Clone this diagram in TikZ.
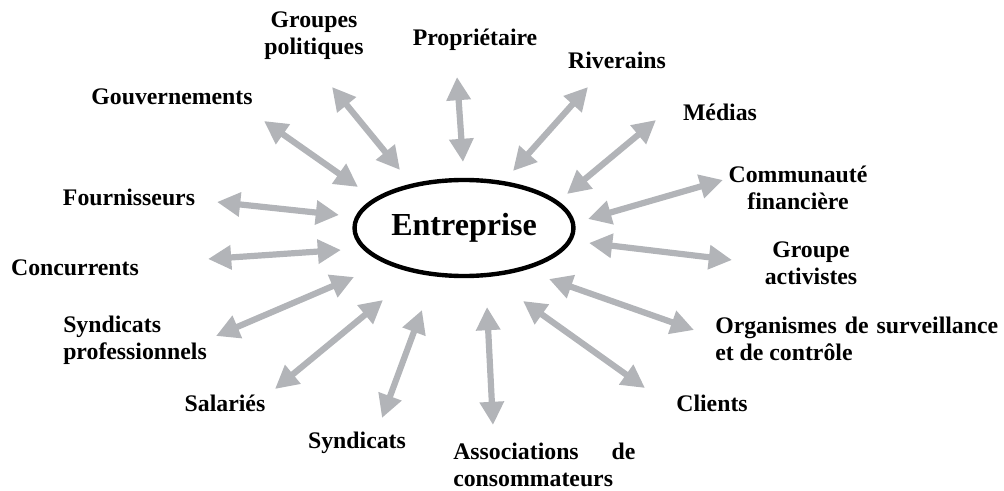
\documentclass[tikz,border=0pt]{standalone}
\usepackage{fontspec}
\setmainfont{Liberation Serif}
\usepackage{xcolor}
\usetikzlibrary{arrows.meta,shapes.geometric}
\definecolor{grisfleche}{RGB}{178,180,184}

\begin{document}
\begin{tikzpicture}[x=0.025cm,y=-0.025cm,
    fleche/.style={grisfleche,line width=0.155cm,{Triangle[length=0.58cm,width=0.58cm]}-{Triangle[length=0.58cm,width=0.58cm]}},
    etiquette/.style={inner sep=0pt,font=\fontsize{16.9}{19.3}\selectfont\bfseries}]
                    \useasboundingbox (0,0) rectangle (1004,491);

                    % centre
                    \node[draw,ellipse,line width=0.11cm,minimum width=5.15cm,minimum height=2.4cm,
                          font=\fontsize{22.8}{26}\selectfont\bfseries] (entreprise) at (464,228) {Entreprise};

                    % les parties prenantes
                    \node[etiquette] (gouv) at (172,97) {Gouvernements};
                    \node[etiquette,align=center] (polit) at (314,36) {Groupes\\politiques};
                    \node[etiquette] (prop) at (475,40) {Propriétaire};
                    \node[etiquette] (river) at (617,60) {Riverains};
                    \node[etiquette] (medias) at (720,112) {Médias};
                    \node[etiquette,align=center] (comfin) at (798,188) {Communauté\\financière};
                    \node[etiquette,align=center] (activ) at (811,263) {Groupe\\activistes};
                    \node[etiquette,align=left,anchor=west] (organ) at (715,339) {\makebox[7.07cm][s]{Organismes de surveillance}\\et de contrôle};
                    \node[etiquette] (clients) at (712,403) {Clients};
                    \node[etiquette,align=left,anchor=west] (assoc) at (453,465) {\makebox[4.55cm][s]{Associations de}\\consommateurs};
                    \node[etiquette] (synd) at (357,443) {Syndicats};
                    \node[etiquette] (salar) at (225,403) {Salariés};
                    \node[etiquette,align=left,anchor=west] (syndpro) at (63,340) {Syndicats\\professionnels};
                    \node[etiquette] (concur) at (75,268) {Concurrents};
                    \node[etiquette] (fourn) at (129,197) {Fournisseurs};

                    % extremites des fleches
                    \coordinate (gouv1) at (264,121);    \coordinate (gouv2) at (358,187);
                    \coordinate (polit1) at (332,87);    \coordinate (polit2) at (400,170);
                    \coordinate (prop1) at (457,77);     \coordinate (prop2) at (463,162);
                    \coordinate (river1) at (588,87);    \coordinate (river2) at (513,171);
                    \coordinate (medias1) at (656,120);  \coordinate (medias2) at (567,194);
                    \coordinate (comfin1) at (723,180);  \coordinate (comfin2) at (588,219);
                    \coordinate (activ1) at (732,260);   \coordinate (activ2) at (589,243);
                    \coordinate (organ1) at (694,330);   \coordinate (organ2) at (549,279);
                    \coordinate (clients1) at (645,388); \coordinate (clients2) at (523,301);
                    \coordinate (assoc1) at (493,425);   \coordinate (assoc2) at (487,307);
                    \coordinate (synd1) at (382,418);    \coordinate (synd2) at (422,310);
                    \coordinate (salar1) at (275,389);   \coordinate (salar2) at (383,300);
                    \coordinate (syndpro1) at (216,336); \coordinate (syndpro2) at (354,277);
                    \coordinate (concur1) at (208,259);  \coordinate (concur2) at (341,250);
                    \coordinate (fourn1) at (217,202);   \coordinate (fourn2) at (339,215);

                    % fleches
                    \draw[fleche] (gouv1) -- (gouv2);
                    \draw[fleche] (polit1) -- (polit2);
                    \draw[fleche] (prop1) -- (prop2);
                    \draw[fleche] (river1) -- (river2);
                    \draw[fleche] (medias1) -- (medias2);
                    \draw[fleche] (comfin1) -- (comfin2);
                    \draw[fleche] (activ1) -- (activ2);
                    \draw[fleche] (organ1) -- (organ2);
                    \draw[fleche] (clients1) -- (clients2);
                    \draw[fleche] (assoc1) -- (assoc2);
                    \draw[fleche] (synd1) -- (synd2);
                    \draw[fleche] (salar1) -- (salar2);
                    \draw[fleche] (syndpro1) -- (syndpro2);
                    \draw[fleche] (concur1) -- (concur2);
                    \draw[fleche] (fourn1) -- (fourn2);
                \end{tikzpicture}
\end{document}
